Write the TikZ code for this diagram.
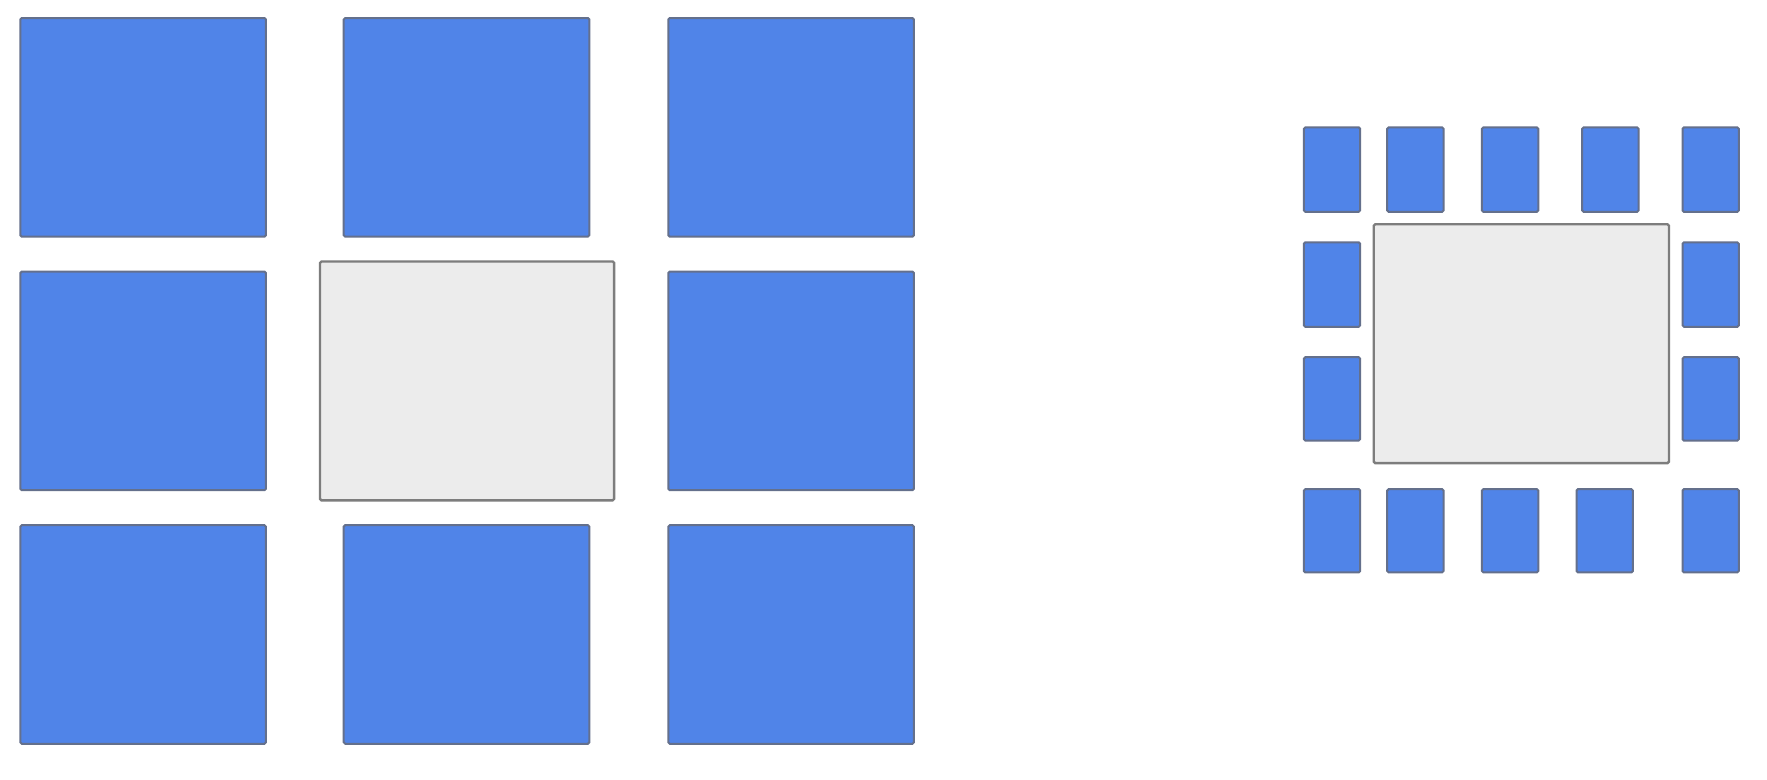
\documentclass[tikz,border=0pt]{standalone}
\definecolor{tileblue}{RGB}{80,132,232}
\definecolor{tileedge}{RGB}{100,112,140}
\definecolor{tablefill}{RGB}{236,236,236}
\definecolor{tableedge}{RGB}{125,125,125}
\begin{document}
\begin{tikzpicture}[x=1.12691pt,y=-1.12691pt,
  seat/.style={fill=tileblue,draw=tileedge,line width=2pt,rounded corners=1.5pt},
  table/.style={fill=tablefill,draw=tableedge,line width=2.4pt,rounded corners=1.5pt}]
\useasboundingbox[fill=white] (0,0) rectangle (1568,692);
% left layout
\foreach \xa/\xb in {18/236,305/523,593/811}{
  \draw[seat] (\xa,16) rectangle (\xb,210);
  \draw[seat] (\xa,466) rectangle (\xb,660);
}
\draw[seat] (18,241) rectangle (236,435);
\draw[seat] (593,241) rectangle (811,435);
\draw[table] (284,232) rectangle (545,444);
% right layout
\foreach \xa in {1157,1231,1315,1404,1493}{
  \draw[seat] (\xa,113) rectangle ++(50,75);
}
\foreach \xa in {1157,1231,1315,1399,1493}{
  \draw[seat] (\xa,434) rectangle ++(50,74);
}
\foreach \xa in {1157,1493}{
  \draw[seat] (\xa,215) rectangle ++(50,75);
  \draw[seat] (\xa,317) rectangle ++(50,74);
}
\draw[table] (1219,199) rectangle (1481,411);
\end{tikzpicture}
\end{document}
